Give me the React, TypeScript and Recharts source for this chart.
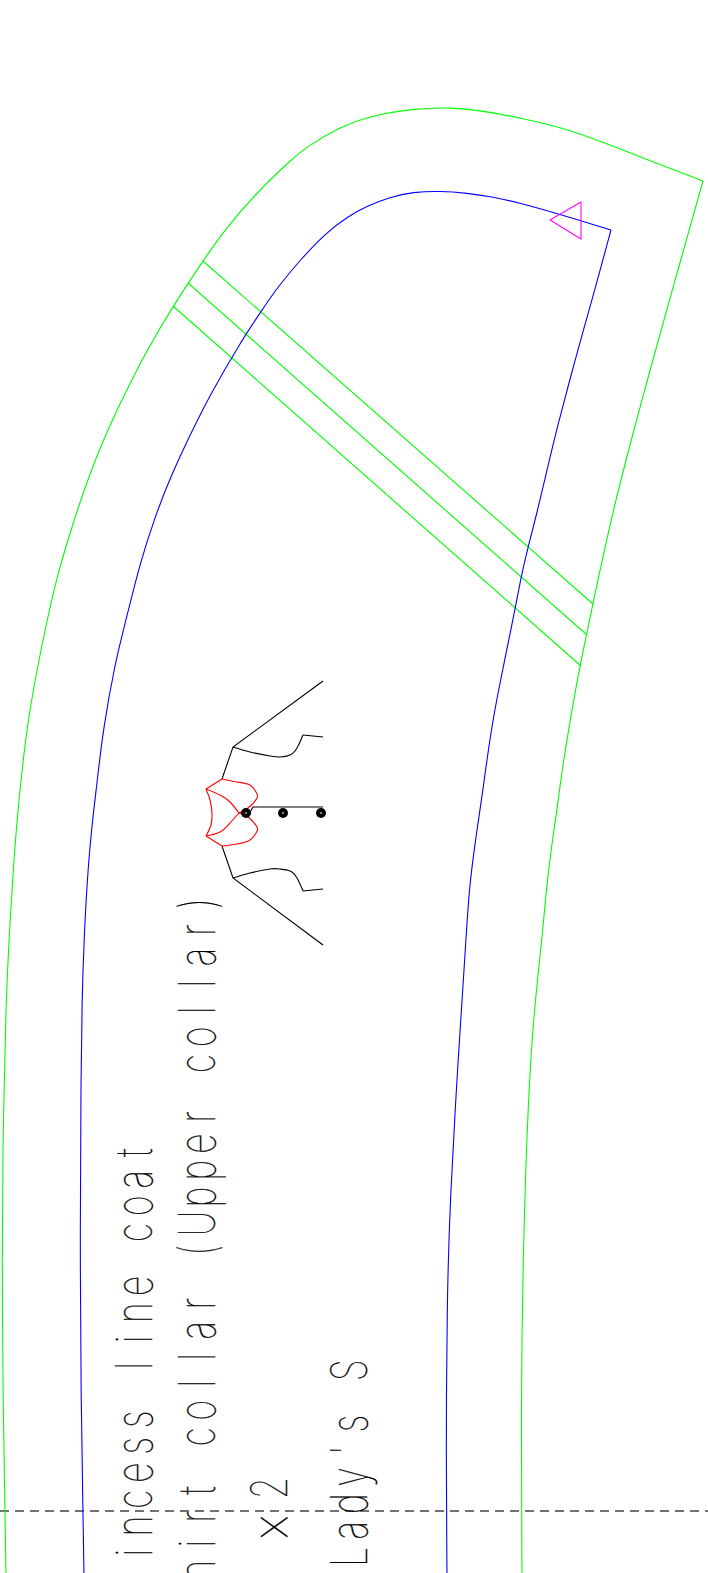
import React from "react";
import { ScatterChart, Scatter, XAxis, YAxis, ReferenceLine, Curve } from "recharts";

type P = { x: number; y: number };
const pts = (a: number[][]): P[] => a.map(([x, y]) => ({ x, y }));

const greenOuter = pts([[703,181],[648,160],[600,141],[560,127],[520,118],[490,112],[450,107],[412,109],[374,115],[339,127],[305,148],[290,161],[257,192],[223,232],[203,261],[173,306],[147,350],[123,397],[100,447],[83,493],[70,533],[58,573],[47,620],[37,670],[28,720],[22,770],[17,820],[13,873],[9,940],[6,1000],[3,1130],[2,1254],[3,1404],[5,1510],[6,1578]]);
const greenInner = pts([[703,181],[672,291],[650,370],[632,437],[613,510],[593,603],[580,665],[572,710],[563,763],[557,810],[548,870],[542,940],[534,1010],[528,1100],[523,1254],[521,1404],[522,1578]]);
const cross1 = pts([[203,261],[593,604]]);
const cross2 = pts([[188,283],[587,635]]);
const cross3 = pts([[173,306],[581,666]]);
const blueOuter = pts([[611,230],[552,212],[520,203],[493,197],[467,193],[440,191],[413,192],[390,197],[367,206],[347,217],[327,232],[300,260],[277,288],[262,310],[240,343],[210,395],[190,435],[170,478],[155,517],[140,563],[126,620],[115,663],[103,730],[97,783],[91,833],[87,883],[84,940],[82,1000],[81,1073],[80,1229],[81,1404],[83,1510],[84,1578]]);
const blueInner = pts([[611,230],[592,300],[575,360],[557,428],[547,470],[537,513],[528,547],[521,577],[513,620],[498,692],[490,737],[482,797],[475,843],[469,890],[466,940],[458,1060],[450,1200],[447,1300],[446,1455],[447,1578]]);
const triangle = pts([[581,202],[550,220],[581,239],[581,202]]);

const shoulderTop = pts([[323,681],[233,747],[222,779]]);
const shoulderBottom = pts([[323,945],[233,878],[222,846]]);
const neckTop = pts([[233,747],[250,752],[270,756],[280,757],[290,755],[297,748],[303,735]]);
const neckTopEnd = pts([[303,735],[323,737]]);
const neckBottom = pts([[233,878],[250,873],[270,869],[280,869],[290,871],[297,878],[303,891]]);
const neckBottomEnd = pts([[303,891],[323,889]]);
const foldLine = pts([[323,807],[253,807],[248,816]]);
const markers = pts([[246,813],[283,813],[321,813]]);

const redOuter = pts([[206,789],[210,800],[212,813],[211,825],[206,836]]);
const redTips = pts([[222,779],[206,789]]);
const redTipsLow = pts([[206,836],[222,846]]);
const redLobeTop = pts([[222,779],[237,782],[250,785],[256,792],[257,798],[248,808],[239,813]]);
const redLobeBottom = pts([[239,813],[248,817],[257,827],[256,833],[250,840],[237,844],[222,846]]);
const redInnerTop = pts([[206,789],[220,795],[230,802],[239,813]]);
const redInnerBottom = pts([[239,813],[230,823],[220,832],[206,836]]);

const foldY = 1511;
const labels = [
  { x: 152, y: 1606, text: "Princess line coat" },
  { x: 215, y: 1597, text: "Shirt collar (Upper collar)" },
  { x: 367, y: 1557, text: "Lady's S" },
];
const timesMark = [{ x: 287, y: 1527, sign: "×", count: "2" }];

const PITCH = 26.67;
const SQUEEZE = 0.72;
const Empty = () => null;
const textStyle = {
  fontFamily: "Inter",
  fontWeight: 100,
  fontSize: 50,
  fill: "#000",
  stroke: "#000",
  strokeWidth: 0.3,
};
const LabelShape = (p: any) => {
  const chars: string[] = Array.from(p.payload.text);
  const xs = chars.map((_, i) => (i * PITCH) / SQUEEZE).join(" ");
  return (
    <text
      transform={`translate(${p.cx},${p.cy}) rotate(-90) scale(${SQUEEZE},1)`}
      x={xs}
      y={0}
      textAnchor="middle"
      {...textStyle}
    >
      {p.payload.text}
    </text>
  );
};
const TimesShape = (p: any) => (
  <text
    transform={`translate(${p.cx},${p.cy}) rotate(-90) scale(${SQUEEZE},1)`}
    textAnchor="middle"
    {...textStyle}
  >
    <tspan x={0} y={6} fontSize={66}>{p.payload.sign}</tspan>
    <tspan x={39 / SQUEEZE} y={0}>{p.payload.count}</tspan>
  </text>
);
const MarkerShape = (p: any) => (
  <g>
    <circle cx={p.cx} cy={p.cy} r={5} fill="#000" />
    <circle cx={p.cx} cy={p.cy} r={1.3} fill="#777" />
  </g>
);

const drawn = (color: string, type: string) => (p: any) => (
  <Curve points={p.points} type={type as any} fill="none" stroke={color} strokeWidth={1.1} />
);

const series: [P[], string, string][] = [
  [greenOuter, "#00ff00", "basis"],
  [greenInner, "#00ff00", "basis"],
  [cross1, "#00ff00", "linear"],
  [cross2, "#00ff00", "linear"],
  [cross3, "#00ff00", "linear"],
  [blueOuter, "#0000ff", "basis"],
  [blueInner, "#0000ff", "basis"],
  [triangle, "#ff00ff", "linear"],
  [shoulderTop, "#000000", "linear"],
  [shoulderBottom, "#000000", "linear"],
  [neckTop, "#000000", "natural"],
  [neckTopEnd, "#000000", "linear"],
  [neckBottom, "#000000", "natural"],
  [neckBottomEnd, "#000000", "linear"],
  [foldLine, "#000000", "linear"],
  [redTips, "#ff0000", "linear"],
  [redTipsLow, "#ff0000", "linear"],
  [redOuter, "#ff0000", "natural"],
  [redLobeTop, "#ff0000", "natural"],
  [redLobeBottom, "#ff0000", "natural"],
  [redInnerTop, "#ff0000", "natural"],
  [redInnerBottom, "#ff0000", "natural"],
];

export default function App() {
  return (
    <div style={{ position: "absolute", left: 0, top: 0, width: 708, height: 1573, background: "#fff" }}>
      <ScatterChart width={708} height={1573} margin={{ top: 0, right: 0, bottom: 0, left: 0 }}>
        <XAxis type="number" dataKey="x" domain={[0, 708]} hide allowDataOverflow />
        <YAxis type="number" dataKey="y" domain={[0, 1573]} reversed hide allowDataOverflow />
        {series.map(([data, color, type], i) => (
          <Scatter
            key={i}
            data={data}
            line={drawn(color, type)}
            shape={Empty}
            isAnimationActive={false}
          />
        ))}
        <Scatter data={markers} shape={MarkerShape} isAnimationActive={false} />
        <Scatter data={labels} shape={LabelShape} isAnimationActive={false} />
        <Scatter data={timesMark} shape={TimesShape} isAnimationActive={false} />
        <ReferenceLine y={foldY} stroke="#444" strokeWidth={1.3} strokeDasharray="9 6" />
      </ScatterChart>
    </div>
  );
}
